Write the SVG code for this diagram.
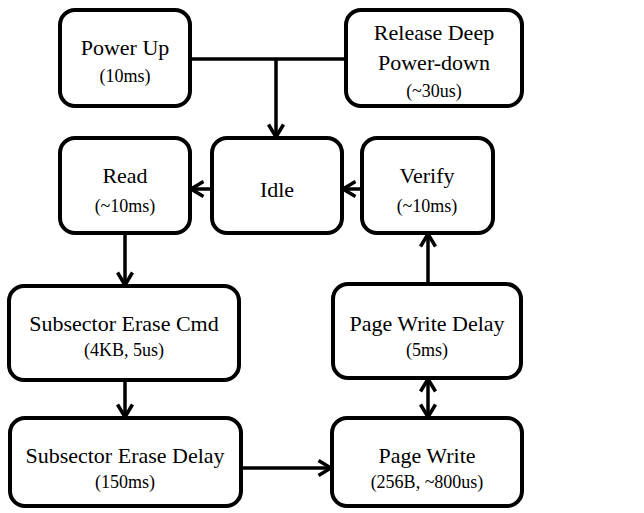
<svg xmlns="http://www.w3.org/2000/svg" width="644" height="513" viewBox="0 0 644 513">
<style>
.box{fill:#fff;stroke:#000;stroke-width:4}
text{font-family:'Liberation Serif','DejaVu Serif',serif;fill:#000;text-anchor:middle}
.t{font-size:22px}
.s{font-size:18px}
.c{stroke:#000;stroke-width:3.5;fill:none}
</style>
<defs>
<marker id="ah" viewBox="0 0 16 18" refX="14.5" refY="9" markerWidth="16" markerHeight="18" markerUnits="userSpaceOnUse" orient="auto-start-reverse">
<path d="M2,1.5 L14.5,9 L2,16.5" fill="none" stroke="#000" stroke-width="3.5"/>
</marker>
</defs>
<rect width="644" height="513" fill="#fff"/>
<g id="connectors">
<path class="c" d="M190,59 H346"/>
<path class="c" d="M276,59 V137" marker-end="url(#ah)"/>
<path class="c" d="M212,189 H191" marker-end="url(#ah)"/>
<path class="c" d="M362,189 H343" marker-end="url(#ah)"/>
<path class="c" d="M125,233 V285" marker-end="url(#ah)"/>
<path class="c" d="M125,380 V417" marker-end="url(#ah)"/>
<path class="c" d="M241,468 H331" marker-end="url(#ah)"/>
<path class="c" d="M428,284 V234" marker-end="url(#ah)"/>
<path class="c" d="M428,379 V417" marker-start="url(#ah)" marker-end="url(#ah)"/>
</g>
<g id="power-up">
<rect class="box" x="60" y="10" width="130" height="96" rx="15"/>
<text class="t" x="125" y="55" font-family="Liberation Serif">Power Up</text>
<text class="s" x="125" y="82" font-family="Liberation Serif">(10ms)</text>
</g>
<g id="release-deep-power-down">
<rect class="box" x="346" y="10" width="176" height="96" rx="15"/>
<text class="t" x="434" y="40">Release Deep</text>
<text class="t" x="434" y="70">Power-down</text>
<text class="s" x="434" y="97">(~30us)</text>
</g>
<g id="read">
<rect class="box" x="60" y="138" width="130" height="95" rx="15"/>
<text class="t" x="125" y="183">Read</text>
<text class="s" x="125" y="212">(~10ms)</text>
</g>
<g id="idle">
<rect class="box" x="212" y="138" width="130" height="95" rx="15"/>
<text class="t" x="277" y="197">Idle</text>
</g>
<g id="verify">
<rect class="box" x="362" y="138" width="131" height="95" rx="15"/>
<text class="t" x="427" y="183">Verify</text>
<text class="s" x="427" y="212">(~10ms)</text>
</g>
<g id="subsector-erase-cmd">
<rect class="box" x="9" y="286" width="230" height="94" rx="15"/>
<text class="t" x="124" y="331">Subsector Erase Cmd</text>
<text class="s" x="124" y="356">(4KB, 5us)</text>
</g>
<g id="page-write-delay">
<rect class="box" x="333" y="284" width="188" height="94" rx="15"/>
<text class="t" x="427" y="331">Page Write Delay</text>
<text class="s" x="427" y="356">(5ms)</text>
</g>
<g id="subsector-erase-delay">
<rect class="box" x="10" y="418" width="231" height="88" rx="15"/>
<text class="t" x="125" y="463">Subsector Erase Delay</text>
<text class="s" x="125" y="488">(150ms)</text>
</g>
<g id="page-write">
<rect class="box" x="332" y="418" width="190" height="88" rx="15"/>
<text class="t" x="427" y="463">Page Write</text>
<text class="s" x="427" y="488">(256B, ~800us)</text>
</g>
</svg>
